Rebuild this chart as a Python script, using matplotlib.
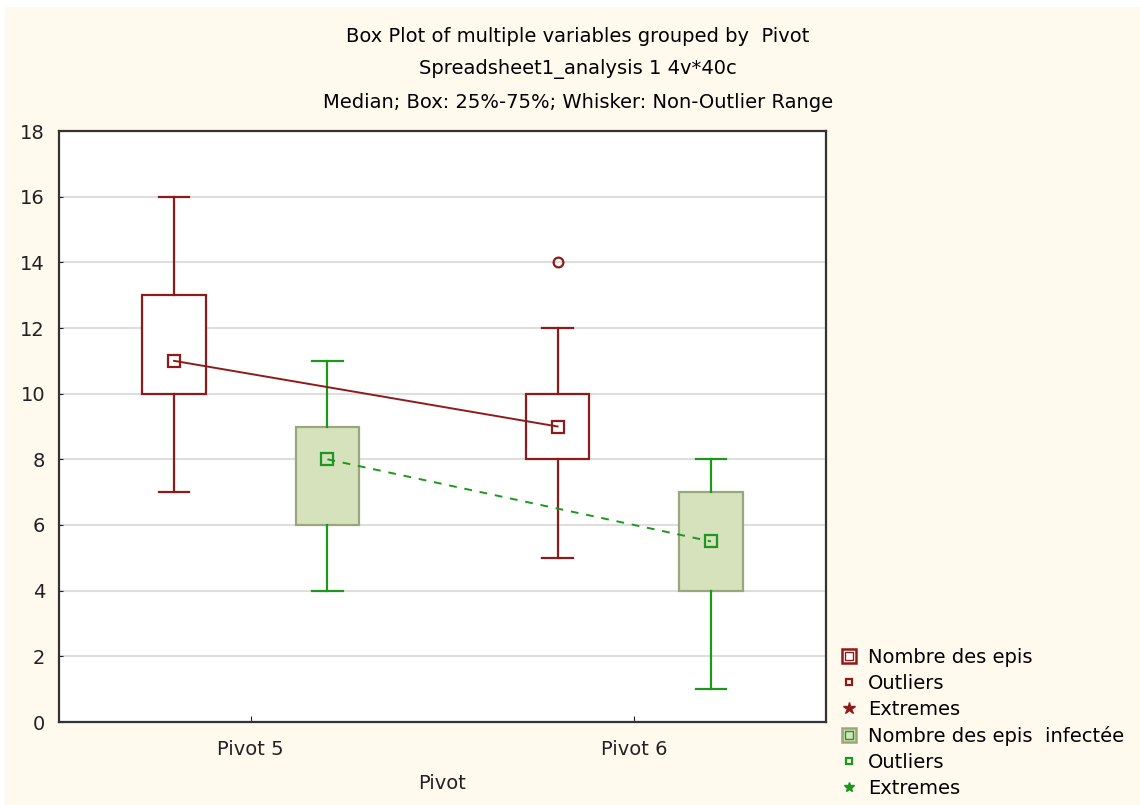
import matplotlib
matplotlib.use("Agg")
import matplotlib.pyplot as plt
from matplotlib.patches import Rectangle, Patch
from matplotlib.lines import Line2D

plt.rcParams['font.family'] = ['DejaVu Sans']

# box plot statistics per pivot
groups = ['Pivot 5', 'Pivot 6']
epis_med = [11, 9]
epis_q1 = [10, 8]
epis_q3 = [13, 10]
epis_lo = [7, 5]
epis_hi = [16, 12]
epis_out = [[], [14]]

inf_med = [8, 5.5]
inf_q1 = [6, 4]
inf_q3 = [9, 7]
inf_lo = [4, 1]
inf_hi = [11, 8]
inf_out = [[], []]

red = '#8e1b1b'
green = '#1d971d'
cream = '#fff9ee'
fs = 14

fig = plt.figure(figsize=(11.4, 8.05), dpi=100, facecolor='white')
fig.add_artist(Rectangle((5 / 1140, 0), 1, 1 - 7 / 805, transform=fig.transFigure,
                         facecolor=cream, edgecolor='none', zorder=-10))

ax = fig.add_axes([59 / 1140, 1 - 722 / 805, 767 / 1140, 591 / 805])
ax.set_facecolor('white')

base = [1, 2]
off = 0.2
pos_epis = [b - off for b in base]
pos_inf = [b + off for b in base]


def stats(med, q1, q3, lo, hi, out):
    return [dict(med=m, q1=a, q3=b, whislo=l, whishi=h, fliers=f)
            for m, a, b, l, h, f in zip(med, q1, q3, lo, hi, out)]


ax.bxp(stats(epis_med, epis_q1, epis_q3, epis_lo, epis_hi, epis_out),
       positions=pos_epis, widths=0.165, capwidths=0.08, patch_artist=True,
       boxprops=dict(facecolor='white', edgecolor=red, linewidth=1.6),
       whiskerprops=dict(color=red, linewidth=1.6),
       capprops=dict(color=red, linewidth=1.6),
       medianprops=dict(visible=False),
       flierprops=dict(marker='o', markerfacecolor='none', markeredgecolor=red,
                       markersize=7, markeredgewidth=1.6),
       manage_ticks=False, zorder=3)

ax.bxp(stats(inf_med, inf_q1, inf_q3, inf_lo, inf_hi, inf_out),
       positions=pos_inf, widths=0.165, capwidths=0.08, patch_artist=True,
       boxprops=dict(facecolor='#d6e2bc', edgecolor='#9aa67c', linewidth=1.6),
       whiskerprops=dict(color=green, linewidth=1.6),
       capprops=dict(color=green, linewidth=1.6),
       medianprops=dict(visible=False),
       flierprops=dict(marker='o', markerfacecolor='none', markeredgecolor=green,
                       markersize=7),
       manage_ticks=False, zorder=3)

# medians joined across pivots
ax.plot(pos_epis, epis_med, color=red, linewidth=1.4, marker='s', markersize=8,
        markerfacecolor='none', markeredgewidth=1.6, zorder=4)
ax.plot(pos_inf, inf_med, color=green, linewidth=1.4, linestyle=(0, (4, 4)),
        marker='s', markersize=8, markerfacecolor='none', markeredgewidth=1.6, zorder=4)

ax.set_xlim(0.5, 2.5)
ax.set_ylim(0, 18)
ax.set_yticks(range(0, 19, 2))
ax.set_xticks(base)
ax.set_xticklabels(groups)
ax.yaxis.grid(True, color='#dedede', linewidth=1.5)
ax.set_axisbelow(True)
for s in ax.spines.values():
    s.set_color('#333333')
    s.set_linewidth(1.6)
ax.tick_params(axis='y', direction='in', length=3, pad=10, labelsize=fs, colors='#222222')
ax.tick_params(axis='x', direction='in', length=4, pad=13, labelsize=fs, colors='#222222')
ax.set_xlabel('Pivot', fontsize=fs, labelpad=11, color='#222222')

fig.text(578 / 1140, 1 - 37 / 805, 'Box Plot of multiple variables grouped by  Pivot',
         ha='center', va='center', fontsize=fs)
fig.text(578 / 1140, 1 - 69 / 805, 'Spreadsheet1_analysis 1 4v*40c',
         ha='center', va='center', fontsize=fs)
fig.text(578 / 1140, 1 - 102 / 805, 'Median; Box: 25%-75%; Whisker: Non-Outlier Range',
         ha='center', va='center', fontsize=fs)

handles = [
    (Patch(facecolor='white', edgecolor=red, linewidth=1.8),
     Line2D([], [], color=red, marker='s', markersize=6, markerfacecolor='none', linestyle='none')),
    Line2D([], [], color=red, marker='s', markersize=5, markerfacecolor='none',
           markeredgewidth=1.6, linestyle='none'),
    Line2D([], [], color=red, marker='*', markersize=9, linestyle='none'),
    (Patch(facecolor='#d6e2bc', edgecolor='#9aa67c', linewidth=1.8),
     Line2D([], [], color=green, marker='s', markersize=6, markerfacecolor='none', linestyle='none')),
    Line2D([], [], color=green, marker='s', markersize=5, markerfacecolor='none',
           markeredgewidth=1.6, linestyle='none'),
    Line2D([], [], color=green, marker='*', markersize=7, linestyle='none'),
]
labels = ['Nombre des epis', 'Outliers', 'Extremes',
          'Nombre des epis  infectée', 'Outliers', 'Extremes']
fig.legend(handles, labels, loc='upper left', bbox_to_anchor=(832 / 1140, 1 - 638 / 805),
           frameon=False, fontsize=fs, handlelength=0.75, handleheight=0.75,
           handletextpad=0.6, labelspacing=0.36, borderpad=0)

fig.savefig('out.png', dpi=100, facecolor=fig.get_facecolor())
